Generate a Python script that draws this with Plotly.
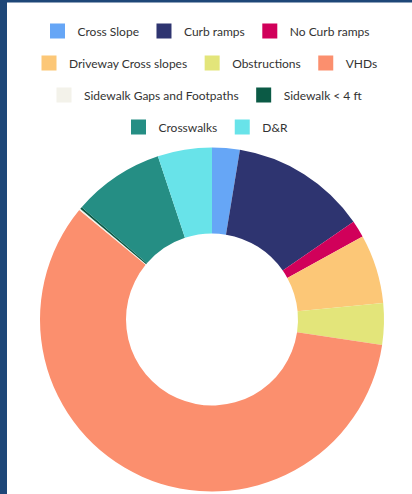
import plotly.graph_objects as go

labels = ["Cross Slope", "Curb ramps", "No Curb ramps", "Driveway Cross slopes",
          "Obstructions", "VHDs", "Sidewalk Gaps and Footpaths", "Sidewalk < 4 ft",
          "Crosswalks", "D&R"]
values = [2.6, 12.8, 1.6, 6.5, 3.9, 58.7, 0.15, 0.2, 8.6, 5.1]
colors = ["#66a6f6", "#2e3470", "#d1005a", "#fcc777", "#e3e57a", "#fb8f6e",
          "#f3f2ea", "#0b5a45", "#258e84", "#68e3e9"]

# legend rows (as in the reference, each row centred)
legend_rows = [[0, 1, 2], [3, 4, 5], [6, 7], [8, 9]]
row_y_px = [31, 63, 95, 127]

W, H = 412, 494

fig = go.Figure()
fig.add_trace(go.Pie(
    labels=labels, values=values, sort=False, direction="clockwise", rotation=0,
    hole=0.5, textinfo="none", showlegend=False,
    marker=dict(colors=colors, line=dict(width=0)),
    domain=dict(x=[40 / W, 384 / W], y=[1 - 491.5 / H, 1 - 147.5 / H]),
))

legend_names = ["legend", "legend2", "legend3", "legend4"]
for r, idxs in enumerate(legend_rows):
    for i in idxs:
        fig.add_trace(go.Scatter(
            x=[None], y=[None], mode="markers", name=labels[i],
            marker=dict(symbol="square", size=15, color=colors[i]),
            legend=legend_names[r], showlegend=True,
        ))

layout_legends = {}
for r, ln in enumerate(legend_names):
    layout_legends[ln] = dict(
        orientation="h", x=0.5, xanchor="center", y=1 - row_y_px[r] / H,
        yanchor="middle", bgcolor="rgba(0,0,0,0)",
        font=dict(family="Lato", size=12, color="#333333"),
    )

fig.update_layout(
    width=W, height=H,
    margin=dict(l=0, r=0, t=0, b=0),
    paper_bgcolor="white", plot_bgcolor="white",
    xaxis=dict(visible=False), yaxis=dict(visible=False),
    shapes=[
        dict(type="rect", xref="paper", yref="paper", x0=0, x1=7 / W, y0=0, y1=1,
             fillcolor="#1e4778", line=dict(width=0)),
        dict(type="rect", xref="paper", yref="paper", x0=0, x1=1, y0=1 - 2.5 / H, y1=1,
             fillcolor="#1e4778", line=dict(width=0)),
    ],
    **layout_legends,
)

fig.write_html("out.html", config={"displayModeBar": False},
               post_script="document.body.style.margin='0';")
